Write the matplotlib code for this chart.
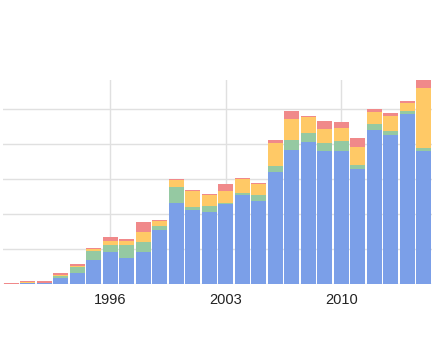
import matplotlib
matplotlib.use("Agg")
import matplotlib.pyplot as plt
import numpy as np

years = list(range(1990, 2016))
blue = [0, 0.45, 0.35, 1.9, 3.2, 6.9, 9.3, 7.6, 9.3, 15.5, 23.3, 21.1, 20.8, 22.9, 25.5, 23.9,
        32.2, 38.5, 40.8, 38.0, 38.0, 33.1, 44.1, 42.7, 48.7, 38.0]
green = [0, 0, 0, 0.5, 1.7, 2.6, 1.9, 3.6, 2.9, 1.2, 4.4, 1.1, 1.7, 0.4, 0.7, 1.6,
         1.6, 2.8, 2.5, 2.4, 2.9, 0.9, 1.8, 1.1, 0.9, 1.1]
yellow = [0.2, 0.2, 0.15, 0.3, 0.4, 0.6, 1.3, 1.1, 2.8, 1.4, 2.2, 4.5, 2.9, 3.3, 3.8, 3.1,
          6.6, 6.0, 4.4, 4.1, 3.7, 5.2, 3.3, 4.3, 2.2, 17.1]
red = [0.2, 0.3, 0.4, 0.4, 0.4, 0.4, 0.9, 0.6, 2.9, 0.4, 0.3, 0.3, 0.3, 2.0, 0.4, 0.4,
       0.8, 2.1, 0.5, 2.3, 1.7, 2.6, 0.9, 0.9, 0.5, 2.2]
xticks = [1996, 2003, 2010]
yticks = [0, 10, 20, 30, 40, 50]

colors = ["#7b9fe8", "#95c9a2", "#ffc966", "#f0898a"]

fig = plt.figure(figsize=(4.37, 3.59), dpi=100)
ax = fig.add_axes([3/437, (359-284.3)/359, 429/437, (284.3-80)/359])

x = np.array(years)
bottom = np.zeros(len(years))
for vals, c in zip([blue, green, yellow, red], colors):
    v = np.array(vals)
    ax.bar(x, v, bottom=bottom, width=0.88, color=c, linewidth=0, zorder=2)
    bottom += v

ax.set_xlim(1989.5, 2015.5)
ax.set_ylim(0, 58.4)
ax.set_xticks(xticks)
ax.set_xticklabels([str(t) for t in xticks], fontsize=10.5, family="Liberation Sans", color="#222222")
ax.set_yticks(yticks)
ax.set_yticklabels([])
ax.tick_params(length=0, pad=6)
ax.grid(True, color="#e0e0e0", linewidth=1, zorder=0)
ax.set_axisbelow(True)
for s in ax.spines.values():
    s.set_visible(False)

fig.savefig("out.png", dpi=100)
